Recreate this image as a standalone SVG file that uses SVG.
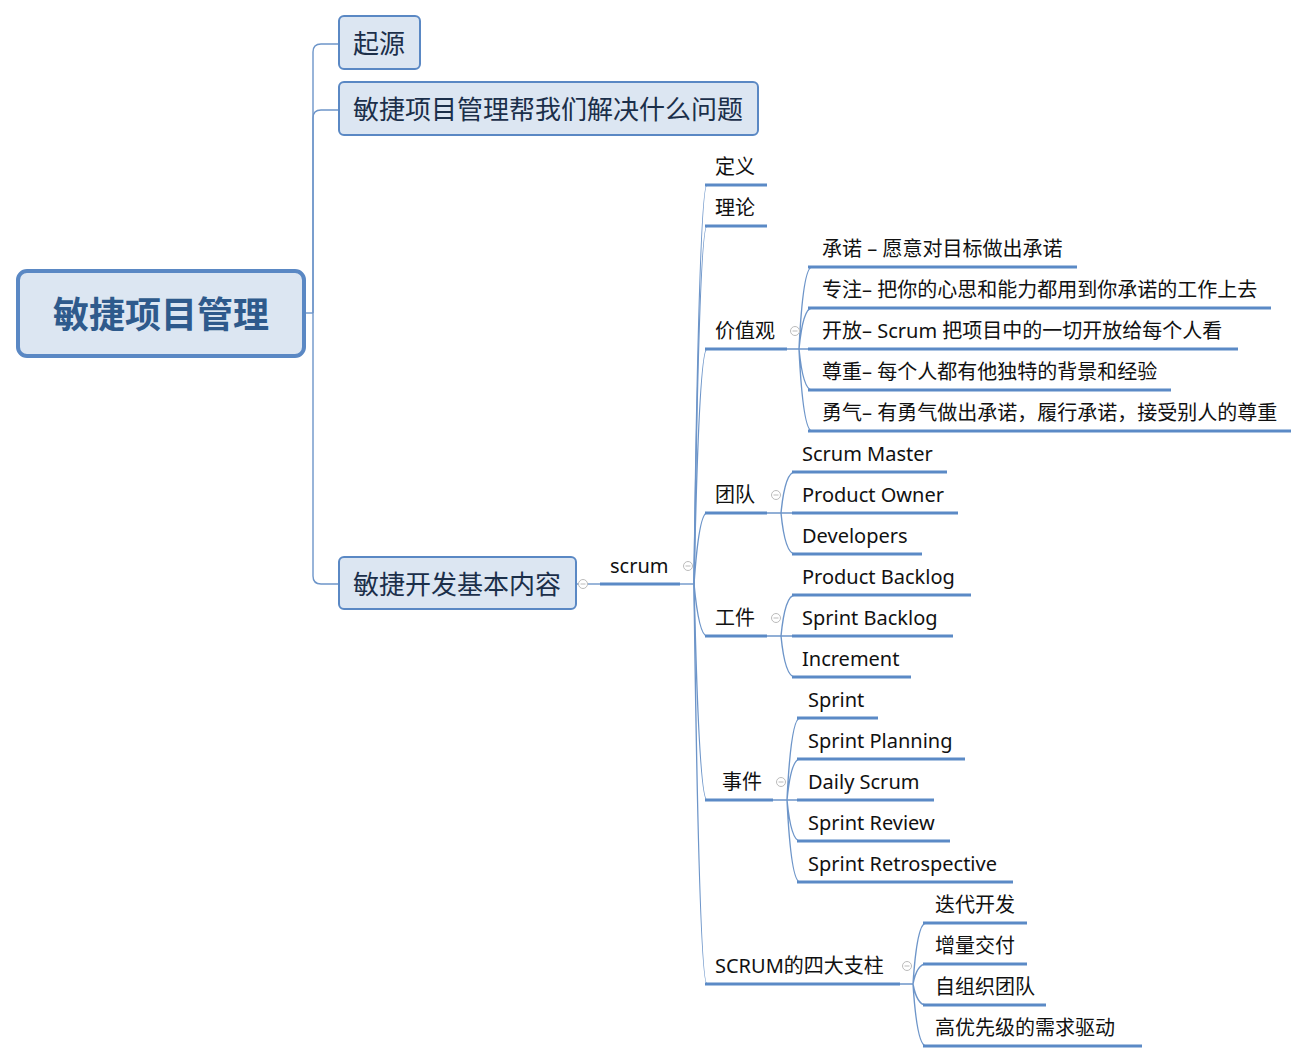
<svg xmlns="http://www.w3.org/2000/svg" width="1309" height="1063" viewBox="0 0 1309 1063">
<style>
.box{fill:#DCE6F2;stroke:#5A88C4;stroke-width:2}
.root{fill:#DCE6F2;stroke:#5A88C4;stroke-width:4}
.t1{font-family:"Noto Sans","Noto Sans CJK SC",sans-serif;font-size:26px;fill:#1B2F4A}
.t0{font-family:"Noto Sans","Noto Sans CJK SC",sans-serif;font-size:36px;font-weight:bold;fill:#2E5A8C}
.t{font-family:"Noto Sans","Noto Sans CJK SC",sans-serif;font-size:20px;fill:#111}
.ul{stroke:#5B8AC6;stroke-width:3;fill:none}
.cn{stroke:#6D95C9;stroke-width:1.4;fill:none}
.cl{fill:#fff;stroke:#BBB;stroke-width:1}
.clm{stroke:#BBB;stroke-width:1}
</style>
<defs>
<g id="col"><circle class="cl" cx="0" cy="0" r="4.5"/><line class="clm" x1="-2.5" y1="0" x2="2.5" y2="0"/></g>
</defs>
<g id="connectors">
<path class="cn" d="M304,313 L313,313"/>
<path class="cn" d="M313,313 L313,52 Q313,44 321,44 L339,44"/>
<path class="cn" d="M313,313 L313,118 Q313,110 321,110 L339,110"/>
<path class="cn" d="M313,313 L313,576 Q313,584 321,584 L339,584"/>
<path class="cn" d="M576,584 L600,584"/>
<path class="ul" d="M600,584 L680,584"/>
<path class="cn" d="M680,584 L694,584"/>
<path class="cn" d="M694,584 Q699,185 707,185"/>
<path class="cn" d="M694,584 Q699,226 707,226"/>
<path class="cn" d="M694,584 Q699,349 707,349"/>
<path class="cn" d="M694,584 Q699,513 707,513"/>
<path class="cn" d="M694,584 Q699,636 707,636"/>
<path class="cn" d="M694,584 Q699,800 707,800"/>
<path class="cn" d="M694,584 Q699,984 707,984"/>
<path class="ul" d="M705,185 L767,185 M705,226 L767,226 M705,349 L787,349 M705,513 L767,513 M705,636 L767,636 M705,800 L773,800 M705,984 L900,984"/>
<path class="cn" d="M787,349 L799,349 M767,513 L781,513 M767,636 L781,636 M773,800 L787,800 M900,984 L913,984"/>
<path class="cn" d="M799,349 Q803,267 812,267 M799,349 Q803,308 812,308 M799,349 L812,349 M799,349 Q803,390 812,390 M799,349 Q803,431 812,431"/>
<path class="ul" d="M808,267 L1077,267 M808,308 L1271,308 M808,349 L1238,349 M808,390 L1171,390 M808,431 L1291,431"/>
<path class="cn" d="M781,513 Q785,472 795,472 M781,513 L795,513 M781,513 Q785,554 795,554"/>
<path class="ul" d="M792,472 L947,472 M792,513 L958,513 M792,554 L922,554"/>
<path class="cn" d="M781,636 Q785,595 795,595 M781,636 L795,636 M781,636 Q785,677 795,677"/>
<path class="ul" d="M792,595 L971,595 M792,636 L953,636 M792,677 L911,677"/>
<path class="cn" d="M787,800 Q791,718 800,718 M787,800 Q791,759 800,759 M787,800 L800,800 M787,800 Q791,841 800,841 M787,800 Q791,882 800,882"/>
<path class="ul" d="M797,718 L878,718 M797,759 L965,759 M797,800 L934,800 M797,841 L950,841 M797,882 L1013,882"/>
<path class="cn" d="M913,984 Q917,923 926,923 M913,984 Q917,964 926,964 M913,984 Q917,1005 926,1005 M913,984 Q917,1046 926,1046"/>
<path class="ul" d="M923,923 L1027,923 M923,964 L1027,964 M923,1005 L1046,1005 M923,1046 L1142,1046"/>
</g>
<g id="n-root"><rect class="root" x="18" y="271" width="286" height="85" rx="9"/><text class="t0" x="161" y="328" text-anchor="middle">敏捷项目管理</text></g>
<g id="n-qiyuan"><rect class="box" x="339" y="16" width="81" height="53" rx="5"/><text class="t1" x="353" y="53">起源</text></g>
<g id="n-wenti"><rect class="box" x="339" y="82" width="419" height="53" rx="5"/><text class="t1" x="353" y="119">敏捷项目管理帮我们解决什么问题</text></g>
<g id="n-jiben"><rect class="box" x="339" y="557" width="237" height="52" rx="5"/><text class="t1" x="353" y="594">敏捷开发基本内容</text><use href="#col" x="583" y="584"/></g>
<g id="n-scrum"><text class="t" x="610" y="573">scrum</text><use href="#col" x="688" y="566"/></g>
<g id="n-dingyi"><text class="t" x="715" y="174">定义</text></g>
<g id="n-lilun"><text class="t" x="715" y="215">理论</text></g>
<g id="n-jiazhi"><text class="t" x="715" y="338">价值观</text><use href="#col" x="795" y="331"/></g>
<g id="n-v1"><text class="t" x="822" y="256">承诺 – 愿意对目标做出承诺</text></g>
<g id="n-v2"><text class="t" x="822" y="297">专注– 把你的心思和能力都用到你承诺的工作上去</text></g>
<g id="n-v3"><text class="t" x="822" y="338">开放– Scrum 把项目中的一切开放给每个人看</text></g>
<g id="n-v4"><text class="t" x="822" y="379">尊重– 每个人都有他独特的背景和经验</text></g>
<g id="n-v5"><text class="t" x="822" y="420">勇气– 有勇气做出承诺，履行承诺，接受别人的尊重</text></g>
<g id="n-tuandui"><text class="t" x="715" y="502">团队</text><use href="#col" x="776" y="495"/></g>
<g id="n-sm"><text class="t" x="802" y="461">Scrum Master</text></g>
<g id="n-po"><text class="t" x="802" y="502">Product Owner</text></g>
<g id="n-dev"><text class="t" x="802" y="543">Developers</text></g>
<g id="n-gongjian"><text class="t" x="715" y="625">工件</text><use href="#col" x="776" y="618"/></g>
<g id="n-pb"><text class="t" x="802" y="584">Product Backlog</text></g>
<g id="n-sb"><text class="t" x="802" y="625">Sprint Backlog</text></g>
<g id="n-inc"><text class="t" x="802" y="666">Increment</text></g>
<g id="n-shijian"><text class="t" x="722" y="789">事件</text><use href="#col" x="781" y="782"/></g>
<g id="n-sprint"><text class="t" x="808" y="707">Sprint</text></g>
<g id="n-sp"><text class="t" x="808" y="748">Sprint Planning</text></g>
<g id="n-ds"><text class="t" x="808" y="789">Daily Scrum</text></g>
<g id="n-sr"><text class="t" x="808" y="830">Sprint Review</text></g>
<g id="n-sre"><text class="t" x="808" y="871">Sprint Retrospective</text></g>
<g id="n-pillars"><text class="t" x="715" y="973">SCRUM的四大支柱</text><use href="#col" x="907" y="966"/></g>
<g id="n-p1"><text class="t" x="935" y="912">迭代开发</text></g>
<g id="n-p2"><text class="t" x="935" y="953">增量交付</text></g>
<g id="n-p3"><text class="t" x="935" y="994">自组织团队</text></g>
<g id="n-p4"><text class="t" x="935" y="1035">高优先级的需求驱动</text></g>
</svg>
